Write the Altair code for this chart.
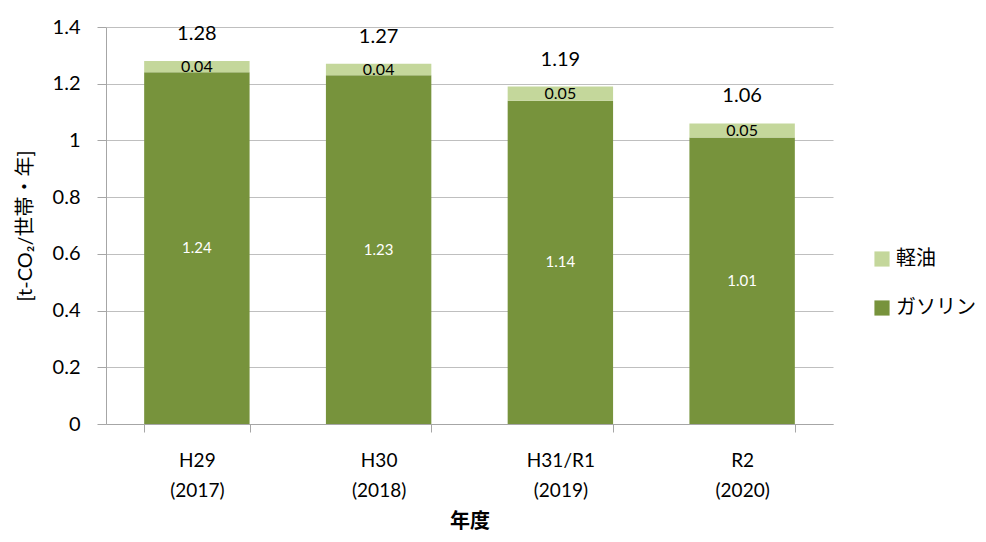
import altair as alt
import pandas as pd

years = ["H29\n(2017)", "H30\n(2018)", "H31/R1\n(2019)", "R2\n(2020)"]
gasoline = [1.24, 1.23, 1.14, 1.01]
diesel = [0.04, 0.04, 0.05, 0.05]
totals = [1.28, 1.27, 1.19, 1.06]
series = ["軽油", "ガソリン"]
colors = ["#c4d79b", "#77933c"]

FONT = "Lato, 'Noto Sans CJK JP', sans-serif"

rows = []
for y, g, d in zip(years, gasoline, diesel):
    rows.append({"year": y, "fuel": "ガソリン", "value": g, "start": 0.0, "end": g, "ord": 0})
    rows.append({"year": y, "fuel": "軽油", "value": d, "start": g, "end": g + d, "ord": 1})
df = pd.DataFrame(rows)
df["mid"] = (df["start"] + df["end"]) / 2
df["label"] = df["value"].map(lambda v: f"{v:.2f}")

tot = pd.DataFrame({"year": years, "total": totals, "label": [f"{t:.2f}" for t in totals]})

x_enc = alt.X("year:N", sort=years, title="年度",
              scale=alt.Scale(paddingInner=0.42, paddingOuter=0.21),
              axis=alt.Axis(labelExpr="split(datum.label, '\\n')", labelAngle=0,
                            labelFontSize=19, labelLineHeight=30, labelPadding=19,
                            labelColor="#000", tickBand="extent", tickSize=8,
                            tickColor="#a6a6a6", domainColor="#a6a6a6",
                            titleFontSize=20, titleFontWeight="bold", titlePadding=11,
                            titleColor="#000"))

bars = alt.Chart(df).mark_bar().encode(
    x=x_enc,
    y=alt.Y("start:Q", title="[t-CO₂/世帯・年]",
            scale=alt.Scale(domain=[0, 1.4]),
            axis=alt.Axis(values=[0, 0.2, 0.4, 0.6, 0.8, 1.0, 1.2, 1.4],
                          labelExpr="datum.value == 0 ? '0' : datum.value == 1 ? '1' : format(datum.value, '.1f')",
                          labelFontSize=20, labelColor="#000", labelPadding=17,
                          tickSize=9, tickColor="#a6a6a6", domainColor="#a6a6a6",
                          gridColor="#bfbfbf", titleFontSize=20, titleFontWeight="normal",
                          titleColor="#000", titlePadding=17)),
    y2="end:Q",
    color=alt.Color("fuel:N", scale=alt.Scale(domain=series, range=colors),
                    legend=alt.Legend(title=None, orient="none", legendX=766, legendY=222,
                                      symbolType="square", symbolSize=230,
                                      symbolStrokeWidth=0, labelFontSize=20,
                                      labelColor="#000", rowPadding=29, labelOffset=4)),
)

seg_labels = alt.Chart(df).mark_text(font=FONT).encode(
    x=alt.X("year:N", sort=years),
    y=alt.Y("mid:Q"),
    text="label:N",
    color=alt.condition("datum.fuel == 'ガソリン'", alt.value("#ffffff"), alt.value("#000000")),
    size=alt.condition("datum.fuel == 'ガソリン'", alt.value(15), alt.value(16)),
)

tot_labels = alt.Chart(tot).mark_text(font=FONT, fontSize=20, dy=-27, color="#000").encode(
    x=alt.X("year:N", sort=years),
    y=alt.Y("total:Q"),
    text="label:N",
)

chart = alt.layer(bars, seg_labels, tot_labels).properties(
    width=727, height=397,
    autosize=alt.AutoSizeParams(type="none"),
    padding={"left": 98, "top": 19, "right": 145, "bottom": 110},
).configure(font=FONT).configure_view(stroke=None).configure_axis(grid=True).configure_axisX(grid=False)

chart.save("out.html", embed_options={"renderer": "svg", "actions": False})
